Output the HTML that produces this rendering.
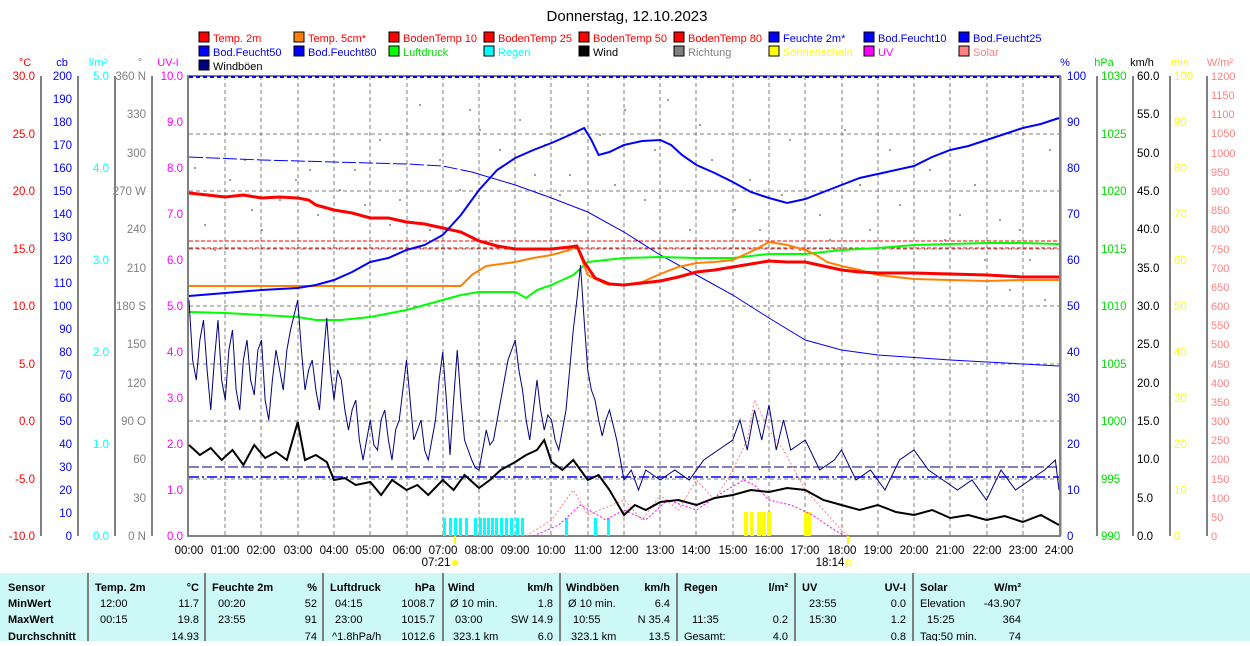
<!DOCTYPE html>
<html><head><meta charset="utf-8"><style>
body{margin:0;background:#fff;width:1250px;height:641px;overflow:hidden;font-family:"Liberation Sans",sans-serif}
svg text{font-family:"Liberation Sans",sans-serif}
</style></head><body>
<svg width="1250" height="641" viewBox="0 0 1250 641" xmlns="http://www.w3.org/2000/svg" font-size="11">
<text x="627" y="21" font-size="15" text-anchor="middle">Donnerstag, 12.10.2023</text>
<g font-size="11">
<rect x="199" y="32" width="10" height="10" fill="#f00" stroke="#000"/><text x="213" y="42" fill="#f00">Temp. 2m</text>
<rect x="294" y="32" width="10" height="10" fill="#ff8000" stroke="#000"/><text x="308" y="42" fill="#f00">Temp. 5cm*</text>
<rect x="389" y="32" width="10" height="10" fill="#f00" stroke="#000"/><text x="403" y="42" fill="#f00">BodenTemp 10</text>
<rect x="484" y="32" width="10" height="10" fill="#f00" stroke="#000"/><text x="498" y="42" fill="#f00">BodenTemp 25</text>
<rect x="579" y="32" width="10" height="10" fill="#f00" stroke="#000"/><text x="593" y="42" fill="#f00">BodenTemp 50</text>
<rect x="674" y="32" width="10" height="10" fill="#f00" stroke="#000"/><text x="688" y="42" fill="#f00">BodenTemp 80</text>
<rect x="769" y="32" width="10" height="10" fill="#00f" stroke="#000"/><text x="783" y="42" fill="#00f">Feuchte 2m*</text>
<rect x="864" y="32" width="10" height="10" fill="#00f" stroke="#000"/><text x="878" y="42" fill="#00f">Bod.Feucht10</text>
<rect x="959" y="32" width="10" height="10" fill="#00f" stroke="#000"/><text x="973" y="42" fill="#00f">Bod.Feucht25</text>
<rect x="199" y="46" width="10" height="10" fill="#00f" stroke="#000"/><text x="213" y="56" fill="#00f">Bod.Feucht50</text>
<rect x="294" y="46" width="10" height="10" fill="#00f" stroke="#000"/><text x="308" y="56" fill="#00f">Bod.Feucht80</text>
<rect x="389" y="46" width="10" height="10" fill="#0f0" stroke="#000"/><text x="403" y="56" fill="#0d0">Luftdruck</text>
<rect x="484" y="46" width="10" height="10" fill="#0ff" stroke="#000"/><text x="498" y="56" fill="#0ff">Regen</text>
<rect x="579" y="46" width="10" height="10" fill="#000" stroke="#000"/><text x="593" y="56">Wind</text>
<rect x="674" y="46" width="10" height="10" fill="#808080" stroke="#000"/><text x="688" y="56" fill="#808080">Richtung</text>
<rect x="769" y="46" width="10" height="10" fill="#ff0" stroke="#000"/><text x="783" y="56" fill="#ff0">Sonnenschein</text>
<rect x="864" y="46" width="10" height="10" fill="#f0f" stroke="#000"/><text x="878" y="56" fill="#f0f">UV</text>
<rect x="959" y="46" width="10" height="10" fill="#ff8080" stroke="#000"/><text x="973" y="56" fill="#ff8080">Solar</text>
<rect x="199" y="60" width="10" height="10" fill="#000080" stroke="#000"/><text x="213" y="70">Windböen</text>
</g>
<g font-size="11" text-anchor="middle">
<text x="25" y="66" fill="#f00">°C</text><text x="62" y="66" fill="#00f">cb</text><text x="98" y="66" fill="#0ff">l/m²</text><text x="140" y="66" fill="#808080">°</text><text x="168" y="66" fill="#f0f">UV-I</text>
<text x="1065" y="66" fill="#00f">%</text><text x="1104" y="66" fill="#0d0">hPa</text><text x="1142" y="66" fill="#000">km/h</text><text x="1180" y="66" fill="#ff0">min</text><text x="1220" y="66" fill="#ff8080">W/m²</text>
</g>
<g stroke="#808080" stroke-width="2">
<line x1="41" y1="76" x2="41" y2="536"/><line x1="78" y1="76" x2="78" y2="536"/><line x1="115" y1="76" x2="115" y2="536"/><line x1="152" y1="76" x2="152" y2="536"/>
<line x1="1097" y1="76" x2="1097" y2="536"/><line x1="1133" y1="76" x2="1133" y2="536"/><line x1="1170" y1="76" x2="1170" y2="536"/><line x1="1207" y1="76" x2="1207" y2="536"/>
</g>
<g font-size="11.5" text-anchor="end">
<g fill="#f00"><text x="35" y="80">30.0</text><text x="35" y="138">25.0</text><text x="35" y="195">20.0</text><text x="35" y="253">15.0</text><text x="35" y="310">10.0</text><text x="35" y="368">5.0</text><text x="35" y="425">0.0</text><text x="35" y="483">-5.0</text><text x="35" y="540">-10.0</text></g>
<g fill="#00f"><text x="72" y="80">200</text><text x="72" y="103">190</text><text x="72" y="126">180</text><text x="72" y="149">170</text><text x="72" y="172">160</text><text x="72" y="195">150</text><text x="72" y="218">140</text><text x="72" y="241">130</text><text x="72" y="264">120</text><text x="72" y="287">110</text><text x="72" y="310">100</text><text x="72" y="333">90</text><text x="72" y="356">80</text><text x="72" y="379">70</text><text x="72" y="402">60</text><text x="72" y="425">50</text><text x="72" y="448">40</text><text x="72" y="471">30</text><text x="72" y="494">20</text><text x="72" y="517">10</text><text x="72" y="540">0</text></g>
<g fill="#0ff"><text x="109" y="80">5.0</text><text x="109" y="172">4.0</text><text x="109" y="264">3.0</text><text x="109" y="356">2.0</text><text x="109" y="448">1.0</text><text x="109" y="540">0.0</text></g>
<g fill="#808080"><text x="146" y="80">360 N</text><text x="146" y="118">330</text><text x="146" y="157">300</text><text x="146" y="195">270 W</text><text x="146" y="233">240</text><text x="146" y="272">210</text><text x="146" y="310">180 S</text><text x="146" y="348">150</text><text x="146" y="387">120</text><text x="146" y="425">90 O</text><text x="146" y="463">60</text><text x="146" y="502">30</text><text x="146" y="540">0 N</text></g>
<g fill="#f0f"><text x="183" y="80">10.0</text><text x="183" y="126">9.0</text><text x="183" y="172">8.0</text><text x="183" y="218">7.0</text><text x="183" y="264">6.0</text><text x="183" y="310">5.0</text><text x="183" y="356">4.0</text><text x="183" y="402">3.0</text><text x="183" y="448">2.0</text><text x="183" y="494">1.0</text><text x="183" y="540">0.0</text></g>
</g>
<g font-size="11.5">
<g fill="#00f"><text x="1067" y="80">100</text><text x="1067" y="126">90</text><text x="1067" y="172">80</text><text x="1067" y="218">70</text><text x="1067" y="264">60</text><text x="1067" y="310">50</text><text x="1067" y="356">40</text><text x="1067" y="402">30</text><text x="1067" y="448">20</text><text x="1067" y="494">10</text><text x="1067" y="540">0</text></g>
<g fill="#0d0"><text x="1101" y="80">1030</text><text x="1101" y="138">1025</text><text x="1101" y="195">1020</text><text x="1101" y="253">1015</text><text x="1101" y="310">1010</text><text x="1101" y="368">1005</text><text x="1101" y="425">1000</text><text x="1101" y="483">995</text><text x="1101" y="540">990</text></g>
<g fill="#000"><text x="1137" y="80">60.0</text><text x="1137" y="118">55.0</text><text x="1137" y="157">50.0</text><text x="1137" y="195">45.0</text><text x="1137" y="233">40.0</text><text x="1137" y="272">35.0</text><text x="1137" y="310">30.0</text><text x="1137" y="348">25.0</text><text x="1137" y="387">20.0</text><text x="1137" y="425">15.0</text><text x="1137" y="463">10.0</text><text x="1137" y="502">5.0</text><text x="1137" y="540">0.0</text></g>
<g fill="#ff0"><text x="1174" y="80">100</text><text x="1174" y="126">90</text><text x="1174" y="172">80</text><text x="1174" y="218">70</text><text x="1174" y="264">60</text><text x="1174" y="310">50</text><text x="1174" y="356">40</text><text x="1174" y="402">30</text><text x="1174" y="448">20</text><text x="1174" y="494">10</text><text x="1174" y="540">0</text></g>
<g fill="#ff8080" font-size="11"><text x="1211" y="80">1200</text><text x="1211" y="99">1150</text><text x="1211" y="118">1100</text><text x="1211" y="137">1050</text><text x="1211" y="157">1000</text><text x="1211" y="176">950</text><text x="1211" y="195">900</text><text x="1211" y="214">850</text><text x="1211" y="233">800</text><text x="1211" y="253">750</text><text x="1211" y="272">700</text><text x="1211" y="291">650</text><text x="1211" y="310">600</text><text x="1211" y="329">550</text><text x="1211" y="348">500</text><text x="1211" y="368">450</text><text x="1211" y="387">400</text><text x="1211" y="406">350</text><text x="1211" y="425">300</text><text x="1211" y="444">250</text><text x="1211" y="463">200</text><text x="1211" y="483">150</text><text x="1211" y="502">100</text><text x="1211" y="521">50</text><text x="1211" y="540">0</text></g>
</g>
<g stroke="#808080" stroke-dasharray="4,3" stroke-width="1">
<path d="M225 76V536M261 76V536M298 76V536M334 76V536M370 76V536M407 76V536M443 76V536M479 76V536M515 76V536M551 76V536M588 76V536M624 76V536M660 76V536M696 76V536M733 76V536M769 76V536M805 76V536M842 76V536M878 76V536M914 76V536M950 76V536M987 76V536M1023 76V536"/>
<path d="M189 134H1059M189 191H1059M189 249H1059M189 306H1059M189 364H1059M189 421H1059M189 479H1059"/>
</g>
<rect x="188" y="76" width="872" height="460" fill="none" stroke="#808080" stroke-width="2"/>
<line x1="1061" y1="76" x2="1061" y2="536" stroke="#808080" stroke-width="1"/>
<line x1="189" y1="77" x2="1059" y2="77" stroke="#00f" stroke-width="2" stroke-dasharray="4,3"/>
<g fill="#0ff">
<rect x="443" y="518" width="3" height="18"/><rect x="449" y="518" width="3" height="18"/><rect x="454" y="518" width="3" height="18"/><rect x="459" y="518" width="3" height="18"/><rect x="465" y="518" width="3" height="18"/><rect x="474" y="518" width="3" height="18"/><rect x="479" y="518" width="3" height="18"/><rect x="483" y="518" width="3" height="18"/><rect x="487" y="518" width="3" height="18"/><rect x="491" y="518" width="3" height="18"/><rect x="495" y="518" width="3" height="18"/><rect x="500" y="518" width="3" height="18"/><rect x="505" y="518" width="3" height="18"/><rect x="510" y="518" width="3" height="18"/><rect x="516" y="518" width="3" height="18"/><rect x="521" y="518" width="3" height="18"/><rect x="565" y="518" width="3" height="18"/><rect x="594" y="518" width="3" height="18"/><rect x="607" y="518" width="3" height="18"/>
</g>
<g fill="#ff0">
<rect x="744" y="512" width="4" height="24"/><rect x="750" y="512" width="4" height="24"/><rect x="757" y="512" width="4" height="24"/><rect x="762" y="512" width="4" height="24"/><rect x="767" y="512" width="4" height="24"/><rect x="804" y="512" width="4" height="24"/><rect x="808" y="512" width="3" height="24"/>
</g>
<g fill="#808080">
<circle cx="195" cy="168" r="1"/><circle cx="205" cy="225" r="1"/><circle cx="215" cy="250" r="1"/><circle cx="230" cy="180" r="1"/><circle cx="245" cy="160" r="1"/><circle cx="262" cy="230" r="1"/><circle cx="280" cy="200" r="1"/><circle cx="296" cy="180" r="1"/><circle cx="318" cy="215" r="1"/><circle cx="340" cy="190" r="1"/><circle cx="355" cy="170" r="1"/><circle cx="380" cy="140" r="1"/><circle cx="400" cy="200" r="1"/><circle cx="420" cy="105" r="1"/><circle cx="440" cy="160" r="1"/><circle cx="460" cy="190" r="1"/><circle cx="480" cy="130" r="1"/><circle cx="500" cy="150" r="1"/><circle cx="520" cy="120" r="1"/><circle cx="545" cy="145" r="1"/><circle cx="570" cy="175" r="1"/><circle cx="600" cy="135" r="1"/><circle cx="625" cy="110" r="1"/><circle cx="645" cy="200" r="1"/><circle cx="668" cy="100" r="1"/><circle cx="690" cy="230" r="1"/><circle cx="712" cy="160" r="1"/><circle cx="735" cy="210" r="1"/><circle cx="760" cy="230" r="1"/><circle cx="782" cy="195" r="1"/><circle cx="800" cy="250" r="1"/><circle cx="820" cy="215" r="1"/><circle cx="845" cy="130" r="1"/><circle cx="870" cy="230" r="1"/><circle cx="900" cy="205" r="1"/><circle cx="930" cy="170" r="1"/><circle cx="960" cy="215" r="1"/><circle cx="985" cy="260" r="1"/><circle cx="1010" cy="290" r="1"/><circle cx="1030" cy="260" r="1"/><circle cx="1045" cy="300" r="1"/><circle cx="1050" cy="150" r="1"/>
<circle cx="210" cy="195" r="1"/><circle cx="252" cy="210" r="1"/><circle cx="310" cy="170" r="1"/><circle cx="365" cy="205" r="1"/><circle cx="390" cy="225" r="1"/><circle cx="430" cy="230" r="1"/><circle cx="470" cy="110" r="1"/><circle cx="535" cy="175" r="1"/><circle cx="560" cy="195" r="1"/><circle cx="615" cy="185" r="1"/><circle cx="655" cy="150" r="1"/><circle cx="700" cy="125" r="1"/><circle cx="750" cy="180" r="1"/><circle cx="790" cy="140" r="1"/><circle cx="830" cy="240" r="1"/><circle cx="860" cy="185" r="1"/><circle cx="890" cy="150" r="1"/><circle cx="945" cy="240" r="1"/><circle cx="975" cy="185" r="1"/><circle cx="1000" cy="220" r="1"/><circle cx="1020" cy="230" r="1"/><circle cx="1040" cy="280" r="1"/>
</g>
<g transform="translate(189,0) scale(36.25,1)" fill="none">
<polyline vector-effect="non-scaling-stroke" stroke="#f00" stroke-dasharray="4,2" points="0,241 24,241"/>
<polyline vector-effect="non-scaling-stroke" stroke="#f00" stroke-dasharray="4,2" points="0,248 24,248"/>
<polyline vector-effect="non-scaling-stroke" stroke="#00f" stroke-dasharray="14,3" points="0,157 2,160 4,162 6,164 7,166 7.8,172"/>
<polyline vector-effect="non-scaling-stroke" stroke="#00f" points="7.8,172 9,185 10,198 11,212 12,232 13,255 14,275 15,295 16,318 17,340 18,350 19,355 21,360 23,364 24,366"/>
<polyline vector-effect="non-scaling-stroke" stroke="#000080" stroke-dasharray="10,3" points="0,467 24,467"/>
<polyline vector-effect="non-scaling-stroke" stroke="#00f" stroke-width="1.5" stroke-dasharray="10,3,2,3" points="0,477 24,477"/>
<polyline vector-effect="non-scaling-stroke" stroke="#ff8080" stroke-dasharray="2,2" points="9.3,536 10,520 10.6,490 11,515 12,500 12.5,520 13,495 13.5,510 14,480 14.5,500 15,470 15.4,440 15.6,400 16,430 16.4,450 17,490 17.5,510 18,530 18.2,536"/>
<polyline vector-effect="non-scaling-stroke" stroke="#f0f" stroke-dasharray="2,2" points="9.5,536 10.2,525 10.8,505 11.5,520 12,510 12.6,520 13.2,500 14,510 14.6,495 15.3,480 15.6,485 16,500 16.6,505 17.2,515 17.8,530 18.1,536"/>
<polyline vector-effect="non-scaling-stroke" stroke="#0f0" stroke-width="2" points="0,312 1,313 2,315 3,317 3.5,320 4.2,320 5,317 6,310 7,300 7.5,295 8,292 9,292 9.3,298 9.6,290 10,285 10.6,275 11,262 12,258 13,257 14,258 15,258 16,254 17,254 18,250 19,248 20,245 21,244 22,243 23,243 24,244"/>
<polyline vector-effect="non-scaling-stroke" stroke="#ff8000" stroke-width="2" points="0,286 7.5,286 7.8,275 8.2,266 9,262 9.5,258 10,255 10.5,250 10.7,246 11,275 11.5,284 12,285 12.5,282 13,274 13.5,267 14,263 14.5,262 15,260 15.3,255 15.6,250 16,242 16.5,245 17,250 17.3,255 17.6,262 18,266 18.5,270 19,275 20,279 21,280 22,281 23,280 24,280"/>
<polyline vector-effect="non-scaling-stroke" stroke="#f00" stroke-width="3" points="0,193 0.5,195 1,197 1.5,195 2,198 2.5,197 3,198 3.3,200 3.5,205 4,210 4.5,213 5,218 5.5,218 6,222 6.5,224 7,228 7.5,232 8,241 8.5,246 9,249 9.5,249 10,249 10.5,247 10.7,246 10.9,262 11.2,278 11.6,284 12,285 12.5,283 13,281 13.5,277 14,272 14.5,270 15,267 15.5,264 16,261 16.5,262 17,262 17.5,266 18,270 18.5,272 19,273 20,273 21,274 22,275 23,277 24,277"/>
<polyline vector-effect="non-scaling-stroke" stroke="#00f" stroke-width="2" points="0,296 1,293 2,290 3,288 3.5,285 4,280 4.5,272 5,262 5.5,258 6,250 6.5,245 7,235 7.5,215 8,190 8.5,170 9,158 9.5,150 10,143 10.5,135 10.9,128 11.1,140 11.3,155 11.6,152 12,145 12.5,141 13,140 13.3,145 13.6,155 14,165 14.5,173 15,182 15.5,192 16,198 16.5,203 17,199 17.5,192 18,185 18.5,178 19,174 20,166 20.5,157 21,150 21.5,146 22,140 22.5,134 23,128 23.5,124 24,118"/>
<polyline vector-effect="non-scaling-stroke" stroke="#000080" stroke-width="1" points="0,300 0.1,360 0.2,380 0.3,340 0.4,320 0.5,370 0.6,410 0.7,360 0.8,320 0.9,380 1,400 1.1,350 1.2,330 1.3,390 1.4,410 1.5,360 1.6,340 1.7,380 1.8,395 1.9,350 2,340 2.1,400 2.2,420 2.3,380 2.4,350 2.5,370 2.6,390 2.7,350 2.8,330 2.9,315 3,300 3.1,350 3.2,390 3.3,370 3.4,360 3.5,390 3.6,410 3.7,360 3.8,318 3.9,370 4,400 4.1,370 4.2,380 4.3,410 4.4,430 4.5,410 4.6,400 4.7,440 4.8,460 4.9,440 5,420 5.1,445 5.2,450 5.3,420 5.4,410 5.5,440 5.6,460 5.7,430 5.8,420 5.9,390 6,360 6.1,400 6.2,440 6.3,430 6.4,420 6.5,450 6.6,460 6.7,440 6.8,420 6.9,380 7,352 7.1,400 7.2,455 7.3,400 7.4,350 7.5,400 7.6,440 7.7,450 7.8,460 7.9,468 8,470 8.1,450 8.2,430 8.3,445 8.4,440 8.5,420 8.6,400 8.7,380 8.8,360 8.9,350 9,340 9.1,370 9.2,390 9.3,420 9.4,440 9.5,410 9.6,380 9.7,410 9.8,430 9.9,415 10,420 10.1,440 10.2,450 10.3,430 10.4,410 10.5,370 10.6,330 10.7,300 10.8,265 10.9,320 11,370 11.1,390 11.2,400 11.3,420 11.4,436 11.5,420 11.6,410 11.7,425 11.8,440 11.9,460 12,480 12.2,470 12.4,490 12.6,470 13,480 13.4,470 13.8,480 14.2,460 14.6,450 15,440 15.2,420 15.4,450 15.6,410 15.8,440 16,405 16.2,450 16.4,420 16.6,450 17,440 17.4,470 17.8,460 18,450 18.4,480 18.8,470 19.2,490 19.6,460 20,450 20.4,470 20.8,480 21.2,490 21.6,480 22,500 22.4,470 22.8,490 23.2,480 23.6,470 23.9,460 24,490"/>
<polyline vector-effect="non-scaling-stroke" stroke="#000" stroke-width="2" points="0,445 0.3,455 0.6,448 0.9,460 1.2,450 1.5,465 1.8,445 2.1,458 2.4,452 2.7,460 3,422 3.2,460 3.5,455 3.8,462 4,480 4.3,478 4.6,485 5,482 5.3,495 5.6,480 6,490 6.3,485 6.6,495 7,480 7.3,490 7.6,475 8,488 8.3,480 8.6,470 9,462 9.3,455 9.6,450 9.8,440 10,462 10.3,470 10.6,460 10.8,470 11,480 11.3,475 11.6,490 12,515 12.3,505 12.6,510 13,502 13.5,500 14,505 14.5,498 15,495 15.5,490 16,492 16.5,488 17,490 17.5,500 18,505 18.5,510 19,505 19.5,512 20,515 20.5,510 21,518 21.5,515 22,520 22.5,516 23,522 23.5,515 24,525"/>
</g>
<g font-size="11.5" text-anchor="middle">
<text x="189" y="554">00:00</text><text x="225" y="554">01:00</text><text x="261" y="554">02:00</text><text x="298" y="554">03:00</text><text x="334" y="554">04:00</text><text x="370" y="554">05:00</text><text x="407" y="554">06:00</text><text x="443" y="554">07:00</text><text x="479" y="554">08:00</text><text x="515" y="554">09:00</text><text x="551" y="554">10:00</text><text x="588" y="554">11:00</text><text x="624" y="554">12:00</text><text x="660" y="554">13:00</text><text x="696" y="554">14:00</text><text x="733" y="554">15:00</text><text x="769" y="554">16:00</text><text x="805" y="554">17:00</text><text x="842" y="554">18:00</text><text x="878" y="554">19:00</text><text x="914" y="554">20:00</text><text x="950" y="554">21:00</text><text x="987" y="554">22:00</text><text x="1023" y="554">23:00</text><text x="1059" y="554">24:00</text>
<text x="436" y="566">07:21</text><text x="830" y="566">18:14</text>
</g>
<line x1="455" y1="536" x2="455" y2="544" stroke="#ff0" stroke-width="2"/><circle cx="455" cy="563" r="3" fill="#ff0"/>
<line x1="848" y1="536" x2="848" y2="544" stroke="#ff0" stroke-width="2"/><rect x="846" y="560" width="5" height="5" fill="none" stroke="#ff0"/>
<rect x="0" y="573" width="1250" height="68" fill="#ccf8f8"/>
<g stroke="#808080" stroke-width="2"><line x1="88" y1="573" x2="88" y2="641"/><line x1="205" y1="573" x2="205" y2="641"/><line x1="323" y1="573" x2="323" y2="641"/><line x1="443" y1="573" x2="443" y2="641"/><line x1="560" y1="573" x2="560" y2="641"/><line x1="677" y1="573" x2="677" y2="641"/><line x1="795" y1="573" x2="795" y2="641"/><line x1="913" y1="573" x2="913" y2="641"/></g>
<g font-size="11">
<g font-weight="bold"><text x="8" y="591">Sensor</text><text x="8" y="607">MinWert</text><text x="8" y="623">MaxWert</text><text x="8" y="640">Durchschnitt</text>
<text x="95" y="591">Temp. 2m</text><text x="212" y="591">Feuchte 2m</text><text x="330" y="591">Luftdruck</text><text x="448" y="591">Wind</text><text x="566" y="591">Windböen</text><text x="684" y="591">Regen</text><text x="802" y="591">UV</text><text x="920" y="591">Solar</text></g>
<g font-weight="bold" text-anchor="end"><text x="199" y="591">°C</text><text x="317" y="591">%</text><text x="435" y="591">hPa</text><text x="553" y="591">km/h</text><text x="670" y="591">km/h</text><text x="788" y="591">l/m²</text><text x="906" y="591">UV-I</text><text x="1021" y="591">W/m²</text></g>
<text x="100" y="607">12:00</text><text x="100" y="623">00:15</text>
<text x="218" y="607">00:20</text><text x="218" y="623">23:55</text>
<text x="335" y="607">04:15</text><text x="335" y="623">23:00</text><text x="332" y="640">^1.8hPa/h</text>
<text x="450" y="607">Ø 10 min.</text><text x="455" y="623">03:00</text><text x="453" y="640">323.1 km</text>
<text x="568" y="607">Ø 10 min.</text><text x="573" y="623">10:55</text><text x="571" y="640">323.1 km</text>
<text x="692" y="623">11:35</text><text x="684" y="640">Gesamt:</text>
<text x="809" y="607">23:55</text><text x="809" y="623">15:30</text>
<text x="920" y="607">Elevation</text><text x="927" y="623">15:25</text><text x="920" y="640">Tag:50 min.</text>
<g text-anchor="end">
<text x="199" y="607">11.7</text><text x="199" y="623">19.8</text><text x="199" y="640">14.93</text>
<text x="317" y="607">52</text><text x="317" y="623">91</text><text x="317" y="640">74</text>
<text x="435" y="607">1008.7</text><text x="435" y="623">1015.7</text><text x="435" y="640">1012.6</text>
<text x="553" y="607">1.8</text><text x="553" y="623">SW 14.9</text><text x="553" y="640">6.0</text>
<text x="670" y="607">6.4</text><text x="670" y="623">N 35.4</text><text x="670" y="640">13.5</text>
<text x="788" y="623">0.2</text><text x="788" y="640">4.0</text>
<text x="906" y="607">0.0</text><text x="906" y="623">1.2</text><text x="906" y="640">0.8</text>
<text x="1021" y="607">-43.907</text><text x="1021" y="623">364</text><text x="1021" y="640">74</text>
</g>
</g>
</svg>
</body></html>
